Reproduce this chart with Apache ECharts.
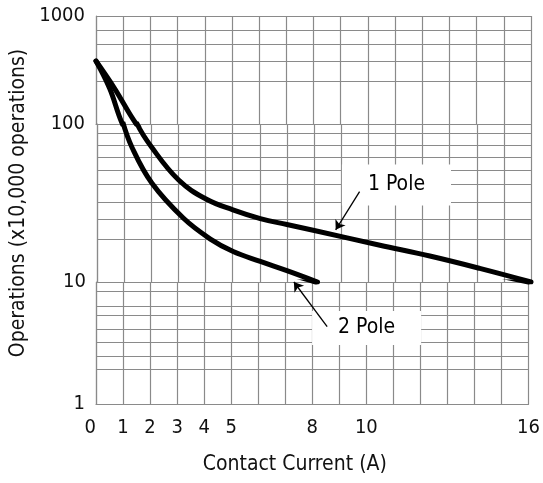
<!DOCTYPE html>
<html>
<head>
<meta charset="utf-8">
<script src="https://cdn.jsdelivr.net/npm/echarts@6/dist/echarts.min.js"></script>
<style>html,body{margin:0;padding:0;background:#fff}#c{width:543px;height:483px}</style>
</head>
<body>
<div id="c"></div>
<script>
// ---- data ----
const xTickLabels = [0, 1, 2, 3, 4, 5, 8, 10, 16];
const decades = [[100, 1000], [10, 100], [1, 10]];
const minorLines0 = [740, 545, 380, 250];
const minorLines1 = [87.3, 73.6, 61.4, 50.6, 41.5, 32.2, 24.9, 18.7];
const minorLines2 = [8.33, 6.3, 5.29, 4.1, 3.18, 2.47, 1.93];
const pole1X = [0, 0.68, 1.48, 2.01, 3.01, 4.02, 5.01, 6.02, 7.00, 8.01, 10.43, 12.27, 14.11, 16];
const pole1Y = [383, 214, 100, 71.5, 44.2, 33.5, 28.6, 25.2, 23.1, 21.2, 17.1, 14.6, 12.2, 10];
const pole2X = [0, 0.50, 0.94, 1.30, 2.02, 3.18, 4.18, 5.02, 6.02, 7.00, 8.13];
const pole2Y = [383, 214, 104.3, 70.5, 42.3, 25.4, 18.7, 15.6, 13.5, 11.8, 10];

const FONT = "'Liberation Sans Narrow', 'DejaVu Sans Condensed', 'Roboto Condensed', sans-serif";
const GRID_COLOR = '#8a8a8a';
const minorLines = [minorLines0, minorLines1, minorLines2];

const pole1 = pole1X.map((x, i) => [x, pole1Y[i]]);
const pole2 = pole2X.map((x, i) => [x, pole2Y[i]]);

const grids = [
  {left: 96, right: 12, top: 16, height: 108},
  {left: 96, right: 12, top: 124, height: 158},
  {left: 96, right: 12, top: 282, height: 122}
];

const xAxes = grids.map((g, i) => ({
  type: 'value', gridIndex: i, min: 0, max: 16, interval: 1,
  axisLine: {show: true, lineStyle: {color: GRID_COLOR, width: 1.2}},
  axisTick: {show: false},
  splitLine: {show: true, lineStyle: {color: GRID_COLOR, width: 1.2}},
  axisLabel: {
    show: i === 2, color: '#111', fontSize: 20, fontFamily: FONT, margin: 14,
    alignMinLabel: 'right',
    formatter: v => xTickLabels.indexOf(Math.round(v)) >= 0 ? String(Math.round(v)) : ''
  },
  name: i === 2 ? 'Contact Current (A)' : '',
  nameLocation: 'middle', nameGap: 50,
  nameTextStyle: {color: '#111', fontSize: 21, fontFamily: FONT, padding: [0, 35, 0, 0]}
}));

const yAxes = decades.map((d, i) => ({
  type: 'log', logBase: 10, gridIndex: i, min: d[0], max: d[1],
  axisLine: {show: true, lineStyle: {color: GRID_COLOR, width: 1.2}},
  axisTick: {show: false},
  splitLine: {show: true, lineStyle: {color: GRID_COLOR, width: 1.2}},
  axisLabel: {
    color: '#111', fontSize: 20, fontFamily: FONT, margin: 11,
    formatter: v => {
      const r = Math.round(v);
      if (i > 0 && r === d[1]) return '';
      return String(r);
    }
  },
  name: i === 1 ? 'Operations (x10,000 operations)' : '',
  nameLocation: 'middle', nameGap: 68, nameRotate: 90,
  nameTextStyle: {color: '#111', fontSize: 21, fontFamily: FONT}
}));

const series = [];
grids.forEach((g, i) => {
  series.push({
    type: 'line', xAxisIndex: i, yAxisIndex: i, data: [], z: 1, silent: true,
    markLine: {
      z: 1, silent: true, symbol: 'none', animation: false,
      label: {show: false},
      lineStyle: {color: GRID_COLOR, width: 1.2, type: 'solid'},
      emphasis: {disabled: true},
      data: minorLines[i].map(v => ({yAxis: v}))
    }
  });
  [pole1, pole2].forEach(d => {
    series.push({
      type: 'line', xAxisIndex: i, yAxisIndex: i, data: d, z: 3,
      symbol: 'none', smooth: 0.4, clip: true, silent: true,
      lineStyle: {color: '#000', width: 5, cap: 'round', join: 'round'}
    });
  });
});

function labelBox(gi, text, at, pad) {
  return {
    type: 'line', xAxisIndex: gi, yAxisIndex: gi, data: [], z: 4, clip: false, silent: true,
    markPoint: {
      z: 4, silent: true, symbol: 'rect', symbolSize: 1, animation: false,
      itemStyle: {color: 'rgba(0,0,0,0)'},
      label: {
        show: true, position: 'inside', formatter: text, color: '#000',
        fontSize: 21, fontFamily: FONT, backgroundColor: '#fff', padding: pad
      },
      data: [{coord: at}]
    }
  };
}
function arrow(gi, from, to) {
  return {
    type: 'line', xAxisIndex: gi, yAxisIndex: gi, data: [], z: 6, clip: false, silent: true,
    markLine: {
      z: 6, silent: true, symbol: ['none', 'arrow'], symbolSize: 9, animation: false,
      label: {show: false},
      lineStyle: {color: '#000', width: 1.3, type: 'solid'},
      data: [[{coord: from}, {coord: to}]]
    }
  };
}
series.push(labelBox(1, '1 Pole', [11.04, 41.1], [14, 26, 6, 26]));
series.push(labelBox(2, '2 Pole', [10.01, 4.2], [10, 26, 3, 26]));
series.push(arrow(1, [9.68, 37.3], [8.80, 21.4]));
series.push(arrow(2, [8.55, 4.3], [7.32, 10]));

const chart = echarts.init(document.getElementById('c'), null, {renderer: 'canvas'});
chart.setOption({
  animation: false,
  backgroundColor: '#fff',
  grid: grids,
  xAxis: xAxes,
  yAxis: yAxes,
  series: series
});
</script>
</body>
</html>
